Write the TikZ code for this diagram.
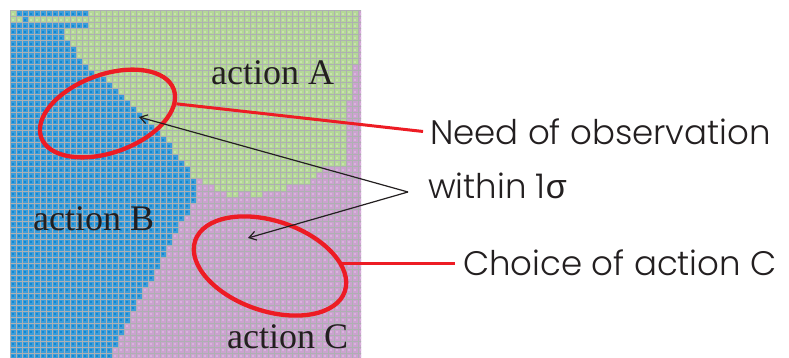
\documentclass[tikz,border=0pt]{standalone}
\usepackage{fontspec}
\setmainfont{Liberation Serif}
\IfFontExistsTF{Poppins Light}
  {\newfontfamily\labelfont{Poppins Light}}
  {\newfontfamily\labelfont{Poppins}}
\newfontfamily\greekfont{Liberation Sans}
\usetikzlibrary{shapes.geometric,arrows.meta}

% cell colours: outer ring and centre of each square
\definecolor{bring}{HTML}{3A9DDB}
\definecolor{bcen}{HTML}{1488D0}
\definecolor{gring}{HTML}{B4D896}
\definecolor{gcen}{HTML}{C8E3AC}
\definecolor{pring}{HTML}{CBA2CF}
\definecolor{pcen}{HTML}{DAB3DE}
\definecolor{gridgray}{HTML}{AEB0B2}
\definecolor{markred}{HTML}{ED1C24}
\definecolor{ink}{HTML}{231F20}

% one run of cells in a row: row, first column, column after last, ring, centre
\newcommand\mapseg[5]{%
  \ifnum#3>#2\relax
    \pgfmathsetmacro\segxa{10+6*#2}%
    \pgfmathsetmacro\segxb{10+6*#3}%
    \pgfmathsetmacro\segyt{11+6*#1}%
    \pgfmathsetmacro\segyb{\segyt+6}%
    \pgfmathsetmacro\segyc{\segyt+3}%
    \pgfmathsetmacro\segxs{\segxa+1.9}%
    \fill[#4] (\segxa,\segyt) rectangle (\segxb,\segyb);
    \draw[#5, line width=2.2pt, dash pattern=on 2.2pt off 3.8pt] (\segxs,\segyc) -- (\segxb,\segyc);
  \fi}

\begin{document}
\begin{tikzpicture}[x=1pt,y=-1pt,
  regionlabel/.style={font=\fontsize{36}{40}\selectfont, text=ink, inner sep=0pt, anchor=base west},
  notelabel/.style={font=\labelfont\fontsize{34}{40}\selectfont, text=ink, inner sep=0pt, anchor=base west},
  redring/.style={draw=markred, line width=4.3pt, ellipse, inner sep=0pt},
  redlead/.style={draw=markred, line width=3pt},
  pointer/.style={draw=ink, line width=1.2pt, -{Straight Barb[length=7pt,width=9pt]}}]
\useasboundingbox (0,0) rectangle (789,358);

% policy map: per row, blue up to b, purple up to gs, green up to ge, purple to the edge
\begin{scope}
\clip (10,11) rectangle (361,358);
\foreach \rj/\rb/\rgs/\rge in {
  0/13/13/58, 1/0/0/58, 2/13/13/58, 3/9/9/58, 4/9/9/58, 5/10/10/58,
  6/11/11/58, 7/11/11/58, 8/12/12/58, 9/13/13/57, 10/14/14/57, 11/16/16/57,
  12/17/17/57, 13/18/18/57, 14/19/19/57, 15/20/20/56, 16/21/21/56, 17/22/22/56,
  18/23/23/56, 19/24/24/56, 20/25/25/56, 21/26/26/56, 22/27/27/56, 23/27/27/56,
  24/28/28/56, 25/29/29/56, 26/30/30/52, 27/30/30/51, 28/31/32/50, 29/31/34/46,
  30/31/31/31, 31/31/31/31, 32/30/30/30, 33/30/30/30, 34/29/29/29, 35/28/28/28,
  36/28/28/28, 37/27/27/27, 38/27/27/27, 39/26/26/26, 40/26/26/26, 41/25/25/25,
  42/25/25/25, 43/24/24/24, 44/24/24/24, 45/23/23/23, 46/22/22/22, 47/22/22/22,
  48/21/21/21, 49/21/21/21, 50/20/20/20, 51/20/20/20, 52/19/19/19, 53/19/19/19,
  54/18/18/18, 55/18/18/18, 56/17/17/17, 57/17/17/17} {
  \mapseg{\rj}{0}{\rb}{bring}{bcen}
  \mapseg{\rj}{\rb}{\rgs}{pring}{pcen}
  \mapseg{\rj}{\rgs}{\rge}{gring}{gcen}
  \mapseg{\rj}{\rge}{59}{pring}{pcen}
}
% isolated cells
\mapseg{0}{0}{1}{gring}{gcen}
\mapseg{1}{2}{3}{bring}{bcen}
\mapseg{30}{36}{38}{gring}{gcen}
\mapseg{30}{40}{42}{gring}{gcen}
% grid lines
\foreach \k in {0,...,59} {
  \draw[gridgray, line width=1pt] (10+6*\k,11) -- (10+6*\k,362);
  \draw[gridgray, line width=1pt] (10,11+6*\k) -- (365,11+6*\k);
}
\end{scope}

% region names
\node[regionlabel] (la) at (211,85) {action A};
\node[regionlabel] (lb) at (33,230) {action B};
\node[regionlabel] (lc) at (227,348) {action C};

% annotations
\node[notelabel] (need) at (430,145) {Need of observation};
\node[notelabel] (within) at (428,198) {within 1{\greekfont σ}};
\node[notelabel] (choice) at (463,275) {Choice of action C};

\node[redring, minimum width=141pt, minimum height=78pt, rotate=20] (e1) at (107.5,113.5) {};
\node[redring, minimum width=158pt, minimum height=90pt, rotate=-18.7] (e2) at (270,266) {};

\draw[redlead, shorten >=7pt] (e1.-12) -- (need.west);
\draw[redlead, shorten >=8pt] (e2.21) -- (e2.21 -| choice.west);

\coordinate (src) at (408,192);
\coordinate (tA) at (139,117);
\coordinate (tC) at (248,238);
\draw[pointer] (src) -- (tA);
\draw[pointer] (src) -- (tC);
\end{tikzpicture}
\end{document}
